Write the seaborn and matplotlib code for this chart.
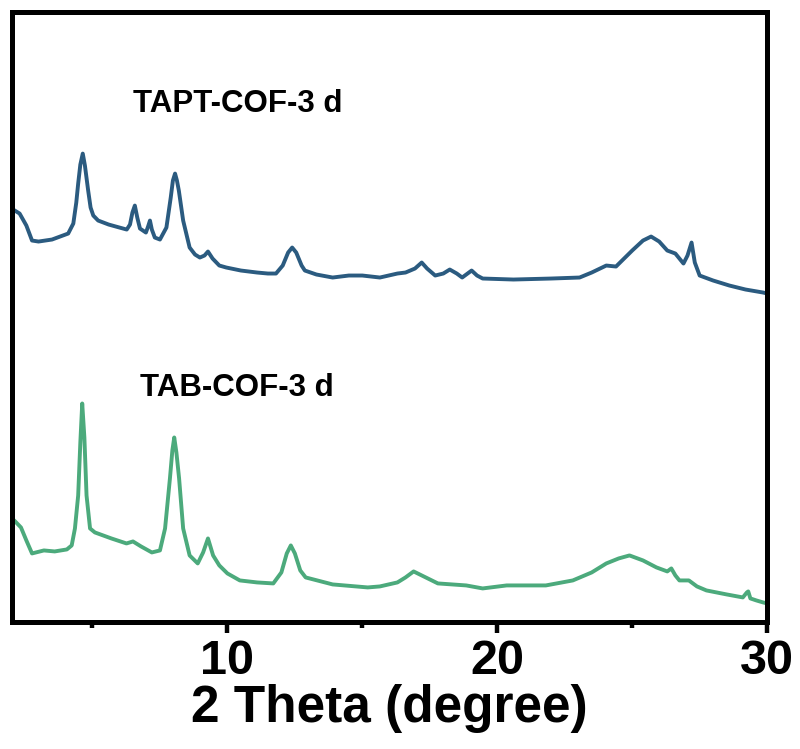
import numpy as np
import pandas as pd
import matplotlib
matplotlib.use("Agg")
import matplotlib.pyplot as plt
import seaborn as sns
from matplotlib.ticker import MultipleLocator

sns.set_theme(style="white")
plt.rcParams['font.family'] = ['Liberation Sans', 'DejaVu Sans']
plt.rcParams['text.color'] = 'black'
plt.rcParams['xtick.color'] = 'black'
plt.rcParams['axes.labelcolor'] = 'black'

# TAPT-COF-3 d (upper trace), 2theta and intensity (a.u., offset)
tapt_x = [2.0, 2.3, 2.55, 2.76, 3.0, 3.5, 4.1, 4.29, 4.4, 4.47, 4.55, 4.64, 4.72, 4.84, 4.93,
          5.03, 5.21, 5.6, 6.0, 6.27, 6.39, 6.48, 6.57, 6.66, 6.76, 6.98, 7.06, 7.13, 7.2, 7.31,
          7.5, 7.74, 7.9, 7.98, 8.06, 8.13, 8.2, 8.36, 8.6, 8.8, 8.98, 9.15, 9.28, 9.45, 9.7,
          9.96, 10.5, 11.1, 11.5, 11.8, 12.05, 12.25, 12.4, 12.55, 12.75, 12.87, 13.3, 13.9,
          14.5, 15.0, 15.65, 16.3, 16.6, 16.95, 17.2, 17.4, 17.7, 18.0, 18.24, 18.5, 18.7,
          19.05, 19.25, 19.46, 20.6, 22.0, 23.05, 23.5, 24.04, 24.4, 25.0, 25.4, 25.7, 26.0,
          26.3, 26.6, 26.9, 27.05, 27.2, 27.32, 27.5, 28.0, 28.6, 29.2, 29.85, 30.0]
tapt_y = [414, 409, 397, 382, 381, 383, 389, 399, 420, 439, 458, 469, 457, 432, 415,
          407, 402, 398, 395, 393, 398, 410, 417, 405, 394, 390, 396, 402, 393, 385,
          383, 395, 425, 442, 449, 442, 432, 402, 375, 368, 365, 367, 371, 364, 357,
          355, 352, 350, 349, 349, 357, 370, 375, 370, 357, 352, 348, 345,
          347, 347, 345, 349, 350, 354, 360, 354, 347, 349, 353, 349, 345,
          352, 347, 344, 343, 344, 345, 350, 357, 356, 372, 382, 386, 381,
          372, 369, 359, 367, 380, 360, 347, 342, 337, 333, 330, 329]

# TAB-COF-3 d (lower trace)
tab_x = [2.0, 2.1, 2.35, 2.55, 2.76, 3.2, 3.6, 4.05, 4.23, 4.35, 4.47, 4.55, 4.62, 4.7, 4.78,
         4.91, 5.09, 5.7, 6.26, 6.5, 6.8, 7.2, 7.5, 7.69, 7.87, 7.96, 8.03, 8.11, 8.21, 8.36,
         8.6, 8.9, 9.1, 9.28, 9.47, 9.7, 10.0, 10.46, 11.1, 11.7, 12.0, 12.2, 12.35, 12.5,
         12.7, 12.9, 13.9, 15.2, 15.65, 16.3, 16.6, 16.9, 17.2, 17.8, 18.85, 19.46, 20.35,
         21.8, 22.8, 23.5, 24.04, 24.5, 24.9, 25.4, 25.9, 26.3, 26.45, 26.6, 26.75, 27.1,
         27.4, 27.75, 28.5, 29.1, 29.25, 29.3, 29.38, 29.6, 29.85, 30.0]
tab_y = [104, 102, 95, 82, 69, 72, 71, 73, 77, 94, 127, 180, 219, 185, 127,
         94, 90, 84, 79, 81, 76, 70, 72, 94, 144, 172, 185, 170, 144, 94,
         67, 59, 70, 84, 67, 57, 49, 42, 40, 39, 50, 69, 77, 69,
         52, 45, 38, 35, 36, 40, 45, 51, 47, 39, 37, 34, 37,
         37, 42, 50, 59, 64, 67, 62, 55, 51, 54, 47, 42, 42,
         36, 32, 28, 25, 30, 31, 24, 22, 20, 19]

labels = ["TAPT-COF-3 d", "TAB-COF-3 d"]
colors = ["#2b5b80", "#4caa7c"]

df = pd.concat([
    pd.DataFrame({"x": tapt_x, "y": tapt_y, "sample": labels[0]}),
    pd.DataFrame({"x": tab_x, "y": tab_y, "sample": labels[1]}),
])

fig = plt.figure(figsize=(8.0, 7.49), dpi=100)
ax = fig.add_axes([0.0144, 0.169, 0.9445, 0.8155])

sns.lineplot(data=df, x="x", y="y", hue="sample", palette=colors, sort=False,
             estimator=None, linewidth=2.8, legend=False, ax=ax)

ax.set_xlim(2, 30)
ax.set_ylim(0, 611)
ax.set_yticks([])
ax.xaxis.set_major_locator(MultipleLocator(10))
ax.xaxis.set_minor_locator(MultipleLocator(5))
ax.tick_params(axis="x", which="major", direction="out", length=8, width=3.2,
               pad=4, labelsize=35, bottom=True, color="black", labelcolor="black")
ax.tick_params(axis="x", which="minor", direction="out", length=4.5, width=3.2,
               bottom=True, color="black")
for lab in ax.get_xticklabels():
    lab.set_fontweight("bold")
for s in ax.spines.values():
    s.set_visible(True)
    s.set_linewidth(3.6)
    s.set_color("black")

ax.set_xlabel("2 Theta (degree)", fontsize=37, fontweight="bold", labelpad=0, color="black")
ax.set_ylabel("")

ax.text(6.5, 519, labels[0], fontsize=22.5, fontweight="bold", ha="left", va="center", color="black")
ax.text(6.76, 234, labels[1], fontsize=22.5, fontweight="bold", ha="left", va="center", color="black")

fig.savefig("out.png", dpi=100)
